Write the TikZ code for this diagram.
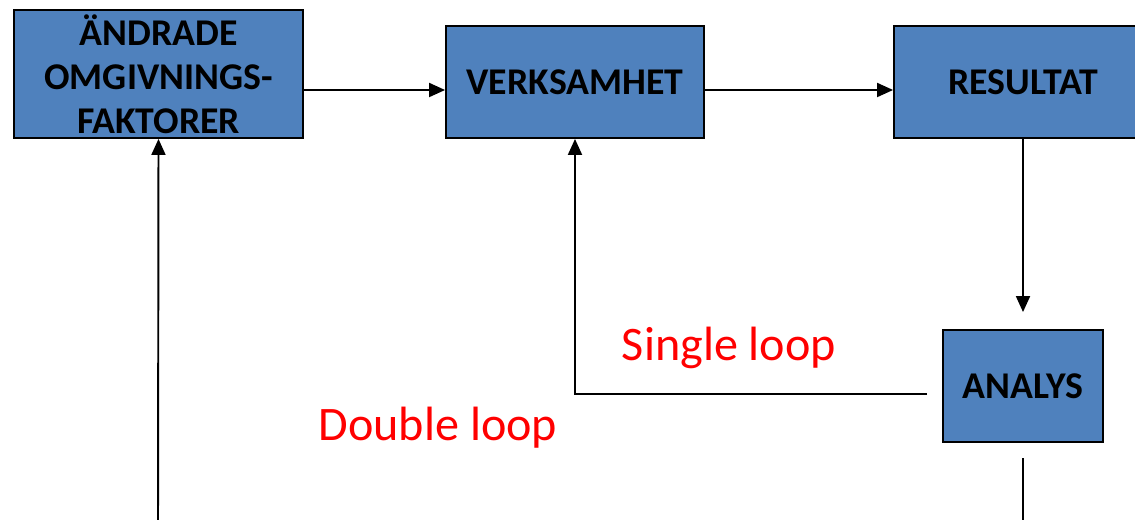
\documentclass[tikz,border=0pt]{standalone}
\usepackage{fontspec}
\setmainfont{Carlito}
\usetikzlibrary{arrows.meta}
\definecolor{boxblue}{RGB}{79,129,189}
\tikzset{
  block/.style={draw=black, line width=1.1pt, fill=boxblue, align=center, inner sep=0pt,
    font=\fontsize{21.5}{25}\selectfont\bfseries},
  looptext/.style={text=red, font=\fontsize{27.4}{32}\selectfont},
  flow/.style={line width=1.1pt, -{Triangle[length=0.32cm,width=0.28cm]}},
  plain/.style={line width=1.1pt},
}
\begin{document}
\begin{tikzpicture}[x=0.02cm,y=-0.02cm]
    \useasboundingbox (0,0) rectangle (1135,520);

    \node[block, minimum width=5.78cm, minimum height=2.56cm] (AOF) at (158.5,74) {ÄNDRADE\\OMGIVNINGS-\\FAKTORER};
    \node[block, minimum width=5.16cm, minimum height=2.24cm] (VERK) at (575,82) {VERKSAMHET};
    \node[block, minimum width=5.16cm, minimum height=2.24cm] (RES) at (1023,82) {RESULTAT};
    \node[block, minimum width=3.2cm, minimum height=2.24cm] (ANA) at (1023,386) {ANALYS};

    \coordinate (row) at (0,90);
    \coordinate (ANAleft) at (927,394);
    \coordinate (ANAdown) at (1023,458);
    \coordinate (ANAend) at (1023,530);
    \coordinate (AOFin) at (158,530);

    \draw[flow] (AOF.east |- row) -- (VERK.west |- row);
    \draw[flow] (VERK.east |- row) -- (RES.west |- row);
    \draw[flow, shorten >=0.34cm] (RES.south) -- (ANA.north);

    % single loop
    \draw[flow] (ANAleft) -| (VERK.south);
    \node[looptext] (single) at (729,348) {Single loop};

    % double loop
    \draw[plain] (ANAdown) -- (ANAend);
    \draw[flow] (AOFin) -- (AOF.south);
    \node[looptext] (double) at (438,428) {Double loop};
\end{tikzpicture}
\end{document}
